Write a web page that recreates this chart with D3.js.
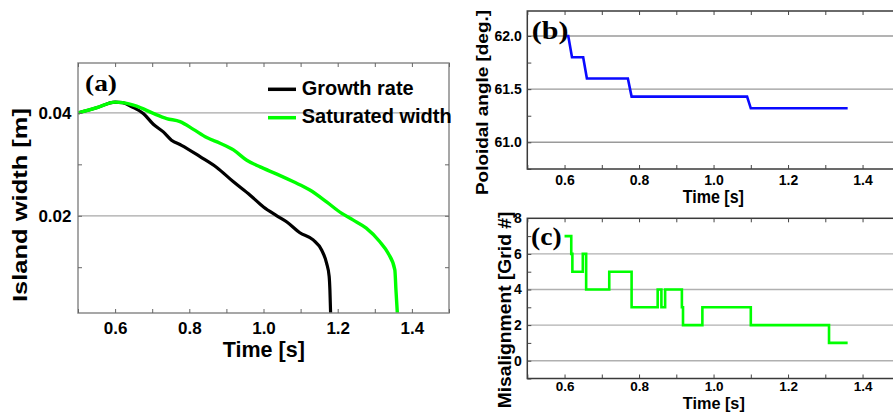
<!DOCTYPE html>
<html><head><meta charset="utf-8">
<script src="https://cdn.jsdelivr.net/npm/d3@7"></script>
<style>html,body{margin:0;padding:0;background:#fff;overflow:hidden}</style>
</head><body><svg id="chart" width="893" height="413"></svg>
<script>
// ---------- data ----------
const seriesNames = ["Growth rate", "Saturated width"];
const timeGrowth = [0.50,0.55,0.60,0.62,0.645,0.676,0.703,0.730,0.752,0.779,0.829,0.874,0.919,0.964,1.000,1.036,1.063,1.098,1.134,1.157,1.170,1.177,1.179,1.181];
const widthGrowth = [0.0400,0.0410,0.0421,0.0420,0.0412,0.0399,0.0378,0.0363,0.0347,0.0337,0.0315,0.0294,0.0266,0.0240,0.0217,0.0200,0.0188,0.0167,0.0153,0.0133,0.0108,0.0082,0.0056,0.0008];
const timeSat = [0.50,0.55,0.60,0.62,0.658,0.703,0.739,0.775,0.811,0.847,0.883,0.919,0.955,0.991,1.036,1.081,1.125,1.170,1.210,1.241,1.277,1.313,1.336,1.354,1.357,1.361];
const widthSat = [0.0400,0.0410,0.0421,0.0420,0.0413,0.0399,0.0389,0.0383,0.0368,0.0352,0.0341,0.0328,0.0308,0.0295,0.0281,0.0266,0.0250,0.0227,0.0205,0.0192,0.0176,0.0150,0.0127,0.0095,0.0056,0.0008];
const timeAngle = [0.605,0.61,0.62,0.65,0.66,0.77,0.78,1.09,1.10,1.36];
const angle = [62.0,62.0,61.8,61.8,61.6,61.6,61.43,61.43,61.32,61.32];
const timeMis = [0.60,0.618,0.621,0.649,0.658,0.72,0.78,0.85,0.86,0.87,0.915,0.918,0.97,1.10,1.31,1.36];
const misalign = [7,6,5,6,4,5,3,4,3,4,3,2,3,2,1,1];

const timeTicks = [0.6,0.8,1.0,1.2,1.4];
const timeMinor = [0.5,0.6,0.7,0.8,0.9,1.0,1.1,1.2,1.3,1.4,1.5];
const widthTicks = [0.02,0.04];
const widthMinor = [0.01,0.02,0.03,0.04];
const angleTicks = [61.0,61.5,62.0];
const angleMinor = [60.75,61.0,61.25,61.5,61.75,62.0];
const misTicks = [0,2,4,6,8];
const misGrid = [0,2,4,6];
const misMinor = [-1,0,1,2,3,4,5,6,7];

// ---------- setup ----------
const svg = d3.select("#chart");
svg.append("rect").attr("width",893).attr("height",413).attr("fill","#fff");
const SANS = "'Liberation Sans', Arial, Helvetica, sans-serif";
const SERIF = "'Liberation Serif', 'Times New Roman', serif";
const GREEN = "#00ff00", BLUE = "#0a0aff", BLACK = "#000";

function ticks(g, scale, orient, pos, values, color) {
  const ax = orient==="bottom"?d3.axisBottom(scale):orient==="top"?d3.axisTop(scale):orient==="left"?d3.axisLeft(scale):d3.axisRight(scale);
  ax.tickValues(values).tickSize(-4).tickFormat("");
  const horiz = orient==="bottom"||orient==="top";
  const gg = g.append("g").attr("transform", horiz?`translate(0,${pos})`:`translate(${pos},0)`).call(ax);
  gg.select(".domain").remove();
  gg.selectAll("line").attr("stroke",color).attr("stroke-width",1);
}
function labels(g, scale, orient, pos, values, fmt, size, pad) {
  const ax = (orient==="bottom"?d3.axisBottom(scale):d3.axisLeft(scale)).tickValues(values).tickSize(0).tickPadding(pad).tickFormat(fmt);
  const gg = g.append("g").attr("transform", orient==="bottom"?`translate(0,${pos})`:`translate(${pos},0)`).call(ax);
  gg.select(".domain").remove();
  gg.selectAll("text").attr("font-family",SANS).attr("font-weight","bold").attr("font-size",size).attr("fill","#000");
}
function grid(g, x, y, values, color, w) {
  g.append("g").selectAll("line").data(values).join("line")
    .attr("x1",x.range()[0]).attr("x2",x.range()[1])
    .attr("y1",d=>y(d)).attr("y2",d=>y(d))
    .attr("stroke",color).attr("stroke-width",w);
}
function title(txt, x, y, size, len, rotate, family) {
  const t = svg.append("text").text(txt)
    .attr("font-family",family||SANS).attr("font-weight","bold").attr("font-size",size)
    .attr("text-anchor", family? "start" : "middle")
    .attr("textLength",len).attr("lengthAdjust","spacingAndGlyphs").attr("fill","#000");
  if (rotate) t.attr("transform",`translate(${x},${y}) rotate(-90)`);
  else t.attr("x",x).attr("y",y);
  return t;
}

// ---------- panel (a) ----------
const xA = d3.scaleLinear().domain([0.5,1.5]).range([78,449]);
const yA = d3.scaleLinear().domain([0.0011,0.0497]).range([313,63]);
const gA = svg.append("g");
gA.append("clipPath").attr("id","clipA").append("rect").attr("x",78).attr("y",63).attr("width",371).attr("height",250);
grid(gA, xA, yA, widthTicks, "#a8a8a8", 1.3);
const lineA = (xs, ys) => d3.line().x((d,i)=>xA(xs[i])).y((d,i)=>yA(ys[i])).curve(d3.curveMonotoneX)(xs);
gA.append("path").attr("d",lineA(timeGrowth,widthGrowth)).attr("fill","none").attr("stroke",BLACK).attr("stroke-width",3.2).attr("clip-path","url(#clipA)");
gA.append("path").attr("d",lineA(timeSat,widthSat)).attr("fill","none").attr("stroke",GREEN).attr("stroke-width",3.4).attr("clip-path","url(#clipA)");
gA.append("rect").attr("x",78).attr("y",63).attr("width",371).attr("height",250).attr("fill","none").attr("stroke","#8a8a8a").attr("stroke-width",1.5);
ticks(gA, xA, "bottom", 313, timeMinor, "#666");
ticks(gA, xA, "top", 63, timeMinor, "#666");
ticks(gA, yA, "left", 78, widthMinor, "#666");
ticks(gA, yA, "right", 449, widthMinor, "#666");
labels(gA, xA, "bottom", 313, timeTicks, d3.format(".1f"), 17, 8.5);
labels(gA, yA, "left", 78, widthTicks, d3.format(".2f"), 17, 6.5);
title("Time [s]", 263.8, 357, 22, 82);
title("Island width [m]", 26.7, 205, 21, 194, true);
title("(a)", 85, 91, 23, 32, false, SERIF);
// legend
const legColors = [BLACK, GREEN];
const legY = [89.3, 117.7];
const leg = gA.append("g").selectAll("g").data(seriesNames).join("g");
leg.append("line").attr("x1",268).attr("x2",296).attr("y1",(d,i)=>legY[i]).attr("y2",(d,i)=>legY[i]).attr("stroke",(d,i)=>legColors[i]).attr("stroke-width",3.5);
leg.append("text").text(d=>d).attr("x",301.7).attr("y",(d,i)=>legY[i]+5.2)
  .attr("font-family",SANS).attr("font-weight","bold").attr("font-size",20)
  .attr("textLength",(d,i)=>[112,150][i]).attr("lengthAdjust","spacingAndGlyphs");

// ---------- panel (b) ----------
const xB = d3.scaleLinear().domain([0.5,1.5]).range([527.3,899.8]);
const yB = d3.scaleLinear().domain([60.749,62.235]).range([169,11]);
const gB = svg.append("g");
grid(gB, xB, yB, angleTicks, "#9a9a9a", 1.4);
gB.append("path").attr("d", d3.line().x((d,i)=>xB(timeAngle[i])).y((d,i)=>yB(angle[i]))(timeAngle))
  .attr("fill","none").attr("stroke",BLUE).attr("stroke-width",2.6);
gB.append("rect").attr("x",527.3).attr("y",11).attr("width",372.5).attr("height",158).attr("fill","none").attr("stroke","#3a3a3a").attr("stroke-width",1.5);
ticks(gB, xB, "bottom", 169, timeMinor, "#444");
ticks(gB, xB, "top", 11, timeMinor, "#444");
ticks(gB, yB, "left", 527.3, angleMinor, "#444");
labels(gB, xB, "bottom", 169, timeTicks, d3.format(".1f"), 14, 6);
labels(gB, yB, "left", 527.3, angleTicks, d3.format(".1f"), 14, 5.6);
title("Time [s]", 713.3, 203.3, 18, 61.3);
title("Poloidal angle [deg.]", 488, 102.5, 17, 185, true);
title("(b)", 531.7, 38.6, 26, 36.7, false, SERIF);

// ---------- panel (c) ----------
const xC = d3.scaleLinear().domain([0.5,1.5]).range([527.3,899.8]);
const yC = d3.scaleLinear().domain([-1,8]).range([378.5,218.3]);
const gC = svg.append("g");
grid(gC, xC, yC, misGrid, "#b0b0b0", 1.4);
gC.append("path").attr("d", d3.line().x((d,i)=>xC(timeMis[i])).y((d,i)=>yC(misalign[i])).curve(d3.curveStepAfter)(timeMis))
  .attr("fill","none").attr("stroke",GREEN).attr("stroke-width",2.6);
gC.append("rect").attr("x",527.3).attr("y",218.3).attr("width",372.5).attr("height",160.2).attr("fill","none").attr("stroke","#3a3a3a").attr("stroke-width",1.5);
ticks(gC, xC, "bottom", 378.5, timeMinor, "#444");
ticks(gC, xC, "top", 218.3, timeMinor, "#444");
ticks(gC, yC, "left", 527.3, misMinor, "#444");
labels(gC, xC, "bottom", 378.5, timeTicks, d3.format(".1f"), 13.5, 3);
labels(gC, yC, "left", 527.3, misTicks, d3.format("d"), 14, 5.6);
title("Time [s]", 713.8, 408.5, 17, 62);
title("Misalignment [Grid #]", 510.7, 310, 19, 196.7, true);
title("(c)", 531, 245.3, 26, 30.7, false, SERIF);
</script></body></html>
